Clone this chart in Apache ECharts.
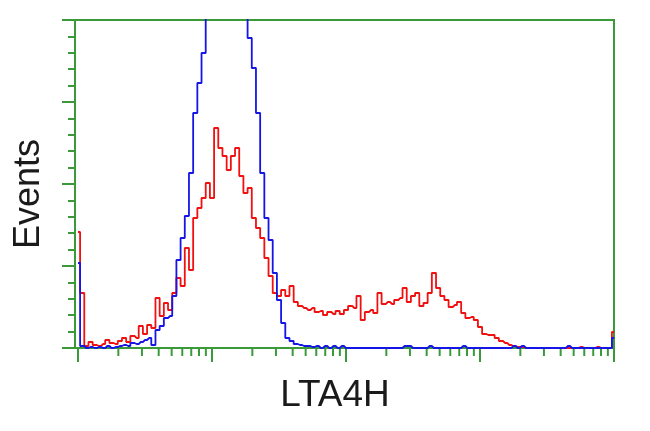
<!DOCTYPE html>
<html>
<head>
<meta charset="utf-8">
<script src="https://cdn.jsdelivr.net/npm/echarts@6/dist/echarts.min.js"></script>
<style>html,body{margin:0;padding:0;background:#fff}#c{width:650px;height:431px}</style>
</head>
<body>
<div id="c"></div>
<script>
// Histogram channels: 128 bins across 4 log decades (index i -> decade i/32)
const redValues = [
  116,55,2,6,3,2,4,8,5,4,
  7,10,6,12,10,22,14,23,20,50,
  32,45,38,55,70,62,100,78,130,140,
  150,165,150,220,200,192,178,192,200,172,
  155,160,130,120,110,90,72,55,52,58,
  52,62,46,42,40,38,40,36,37,33,
  36,34,37,34,38,42,40,52,28,36,
  38,35,55,44,46,44,48,50,60,46,
  52,55,42,45,55,75,60,52,48,41,
  43,46,35,30,31,28,21,14,13,13,
  10,7,5,3,2,1,1,0,0,0,
  0,0,0,0,0,0,0,0,0,0,
  1,0,0,0,1,0,0,0,16
];
const blueValues = [
  85,2,0,1,0,1,0,2,0,1,
  2,3,2,5,4,6,8,10,3,18,
  22,30,32,52,88,110,132,175,235,265,
  295,340,380,400,420,430,430,420,400,380,
  360,310,280,235,175,130,108,75,48,25,
  10,7,4,3,2,2,1,2,0,2,
  0,2,0,2,0,0,0,0,0,0,
  0,0,0,0,0,0,0,0,2,2,
  0,0,0,0,2,0,0,0,0,0,
  0,0,2,0,0,0,0,0,0,0,
  0,0,0,0,2,0,2,0,0,0,
  0,0,0,0,0,0,0,2,0,0,
  0,0,0,0,0,0,0,0,10
];
const binsPerDecade = 32;
const decades = 4;
const yMax = 328, yInterval = 82;
const xTitle = 'LTA4H';
const yTitle = 'Events';

const green = '#3a9a3a';
const toPts = arr => arr.map((v, i) => [i / binsPerDecade, v]);

// log-decade axis ticks (1..9 x 10^d)
const tickData = [];
for (let d = 0; d < decades; d++) {
  for (let k = 1; k <= 9; k++) tickData.push([d + Math.log10(k), k === 1 ? 1 : 0]);
}
tickData.push([decades, 1]);

const chart = echarts.init(document.getElementById('c'));
chart.setOption({
  animation: false,
  grid: {left: 75, right: 36, top: 20, bottom: 83, show: true, borderColor: green, borderWidth: 2},
  xAxis: {
    type: 'value', min: -0.0224, max: decades,
    axisLine: {onZero: false, lineStyle: {color: green, width: 2}},
    axisTick: {show: false}, axisLabel: {show: false}, splitLine: {show: false}
  },
  yAxis: {
    type: 'value', min: 0, max: yMax, interval: yInterval,
    axisLine: {show: true, onZero: false, lineStyle: {color: green, width: 2}},
    axisTick: {show: true, inside: false, length: 13, lineStyle: {color: green, width: 2}},
    minorTick: {show: true, splitNumber: 5, length: 7, lineStyle: {color: green, width: 2}},
    axisLabel: {show: false}, splitLine: {show: false}
  },
  series: [
    {type: 'line', data: toPts(redValues), step: 'middle', symbol: 'none', clip: true,
     lineStyle: {color: '#f01010', width: 1.8}, z: 2},
    {type: 'line', data: toPts(blueValues), step: 'middle', symbol: 'none', clip: true,
     lineStyle: {color: '#1515e6', width: 1.8}, z: 3},
    {type: 'custom', data: tickData, clip: false, silent: true, z: 4,
     renderItem: function (params, api) {
       const p = api.coord([api.value(0), 0]);
       const len = api.value(1) ? 13 : 7;
       return {type: 'line', shape: {x1: p[0], y1: p[1] + 1, x2: p[0], y2: p[1] + 1 + len},
               style: {stroke: green, lineWidth: 2}};
     }}
  ],
  graphic: [
    {type: 'text', x: 335, y: 396, style: {text: xTitle, textAlign: 'center', textVerticalAlign: 'middle',
      font: '37px "Liberation Sans", Arial, sans-serif', fill: '#1a1a1a'}},
    {type: 'text', x: 29, y: 194, rotation: Math.PI / 2, style: {text: yTitle, textAlign: 'center', textVerticalAlign: 'middle',
      font: '36px "Liberation Sans", Arial, sans-serif', fill: '#1a1a1a'}}
  ]
});
</script>
</body>
</html>
